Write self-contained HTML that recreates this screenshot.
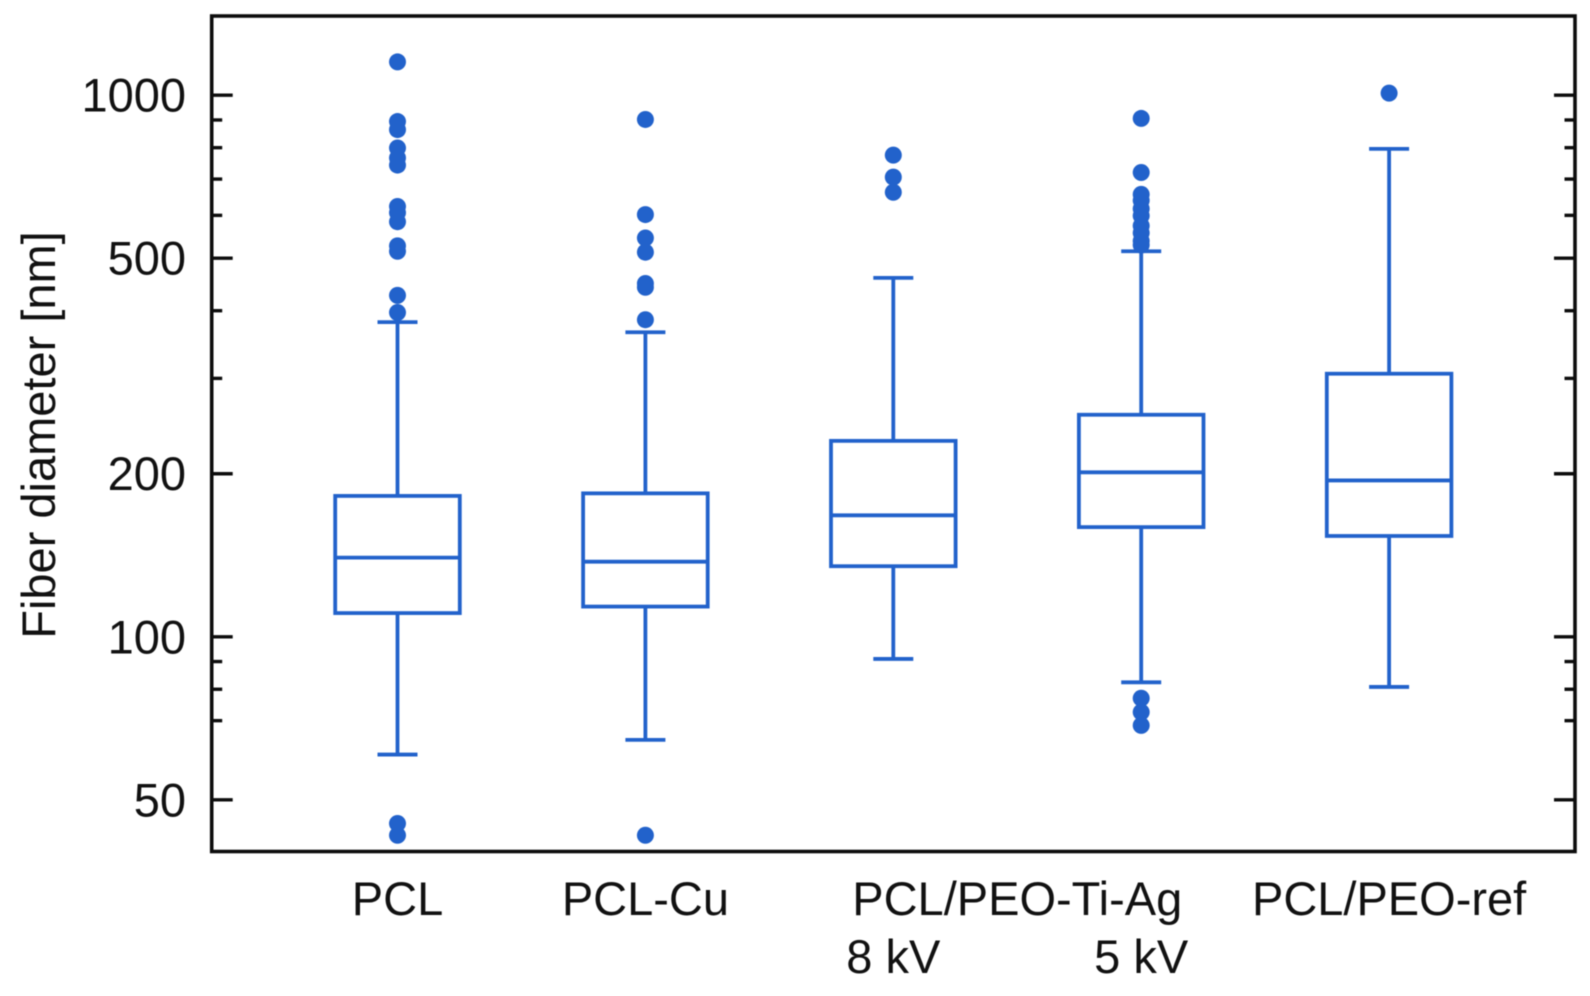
<!DOCTYPE html>
<html lang="en">
<head>
<meta charset="utf-8">
<title>Fiber diameter box plot</title>
<style>
html,body{margin:0;padding:0;background:#fff;width:1590px;height:996px;overflow:hidden}
svg{display:block;filter:blur(0.5px)}
text{font-family:"Liberation Sans",sans-serif;font-size:47px;fill:#111}
</style>
</head>
<body>
<svg id="chart" xmlns="http://www.w3.org/2000/svg" width="1590" height="996" viewBox="0 0 1590 996"></svg>
<script>
const categories = ["PCL", "PCL-Cu", "8 kV", "5 kV", "PCL/PEO-ref"];
const groupLabel = "PCL/PEO-Ti-Ag";
const yAxisTitle = "Fiber diameter [nm]";
const whiskerHigh = [381, 365, 460, 515, 796];
const quartile3 = [182, 184, 230, 257, 306];
const medians = [140, 137.6, 167.6, 201.2, 194.4];
const quartile1 = [110.6, 113.7, 135, 159.4, 153.5];
const whiskerLow = [60.6, 64.5, 91, 82.4, 80.8];
const fliersPCL = [1152, 894, 864, 799, 766, 743, 623, 607, 584, 527, 515, 427, 397, 45.2, 43];
const fliersCu = [902, 602, 545, 513, 449, 442, 385, 43];
const fliers8kV = [775, 706, 662];
const fliers5kV = [906, 720, 656, 639, 617, 599, 574, 557, 538, 529, 77, 72.6, 68.6];
const fliersRef = [1009];
const majorTicks = [50, 100, 200, 500, 1000];
const minorTicks = [70, 80, 90, 300, 400, 600, 700, 800, 900];

const svg = document.getElementById('chart');
const NS = 'http://www.w3.org/2000/svg';
const BLUE = '#2262cb';
const INK = '#0d0d0d';
const plot = {left: 211.7, right: 1575, top: 16, bottom: 851.5};
const y1000 = 95.2, y50 = 799.8;
const decade = (y50 - y1000) / Math.log10(1000 / 50);
function yScale(v) { return y1000 + (3 - Math.log10(v)) * decade; }
const xStart = 397.5, xStep = 247.9;
function xScale(i) { return xStart + i * xStep; }

function mk(tag, attrs, parent) {
  const el = document.createElementNS(NS, tag);
  for (const k in attrs) el.setAttribute(k, attrs[k]);
  (parent || svg).appendChild(el);
  return el;
}
function line(x1, y1, x2, y2, stroke, w, parent) {
  return mk('line', {x1: x1, y1: y1, x2: x2, y2: y2, stroke: stroke, 'stroke-width': w}, parent);
}

const fliers = [fliersPCL, fliersCu, fliers8kV, fliers5kV, fliersRef];
const boxHalf = 62.3, capHalf = 20;
const LW = 3.8;

categories.forEach(function (name, i) {
  const g = mk('g', {});
  
  
  const x = xScale(i);
  const whiskerTop = line(x, yScale(whiskerHigh[i]), x, yScale(quartile3[i]), BLUE, LW, g);
  
  
  const whiskerBottom = line(x, yScale(quartile1[i]), x, yScale(whiskerLow[i]), BLUE, LW, g);
  
  
  const capTop = line(x - capHalf, yScale(whiskerHigh[i]), x + capHalf, yScale(whiskerHigh[i]), BLUE, LW, g);
  
  
  const capBottom = line(x - capHalf, yScale(whiskerLow[i]), x + capHalf, yScale(whiskerLow[i]), BLUE, LW, g);
  
  
  const rect = mk('rect', {
    x: x - boxHalf, y: yScale(quartile3[i]), width: boxHalf * 2,
    height: yScale(quartile1[i]) - yScale(quartile3[i]),
    fill: 'none', stroke: BLUE, 'stroke-width': LW
  }, g);
  
  
  const med = line(x - boxHalf, yScale(medians[i]), x + boxHalf, yScale(medians[i]), BLUE, LW, g);
  
  
  fliers[i].forEach(function (v) {
    const c = mk('circle', {cx: x, cy: yScale(v), r: 8.5, fill: BLUE}, g);
    
    
  });
});

majorTicks.forEach(function (v) {
  const y = yScale(v);
  const l = line(plot.left, y, plot.left + 21, y, INK, 3.4);
  
  
  const r = line(plot.right - 21, y, plot.right, y, INK, 3.4);
  
  
  const t = mk('text', {x: 186, y: y + 16.5, 'text-anchor': 'end'});
  t.textContent = String(v);
  
  
});
minorTicks.forEach(function (v) {
  const y = yScale(v);
  const l = line(plot.left, y, plot.left + 10.5, y, INK, 3.4);
  
  
  const r = line(plot.right - 10.5, y, plot.right, y, INK, 3.4);
  
  
});

const frame = mk('rect', {
  x: plot.left, y: plot.top, width: plot.right - plot.left, height: plot.bottom - plot.top,
  fill: 'none', stroke: INK, 'stroke-width': 3.6
});



categories.forEach(function (name, i) {
  const lower = name.indexOf('kV') >= 0;
  const t = mk('text', {x: xScale(i), y: lower ? 973 : 915, 'text-anchor': 'middle'});
  t.textContent = name;
  
  
});
const group = mk('text', {x: (xScale(2) + xScale(3)) / 2, y: 915, 'text-anchor': 'middle'});
group.textContent = groupLabel;



const title = mk('text', {x: 0, y: 0, 'text-anchor': 'middle', transform: 'translate(55,435) rotate(-90)'});
title.textContent = yAxisTitle;


</script>
</body>
</html>
